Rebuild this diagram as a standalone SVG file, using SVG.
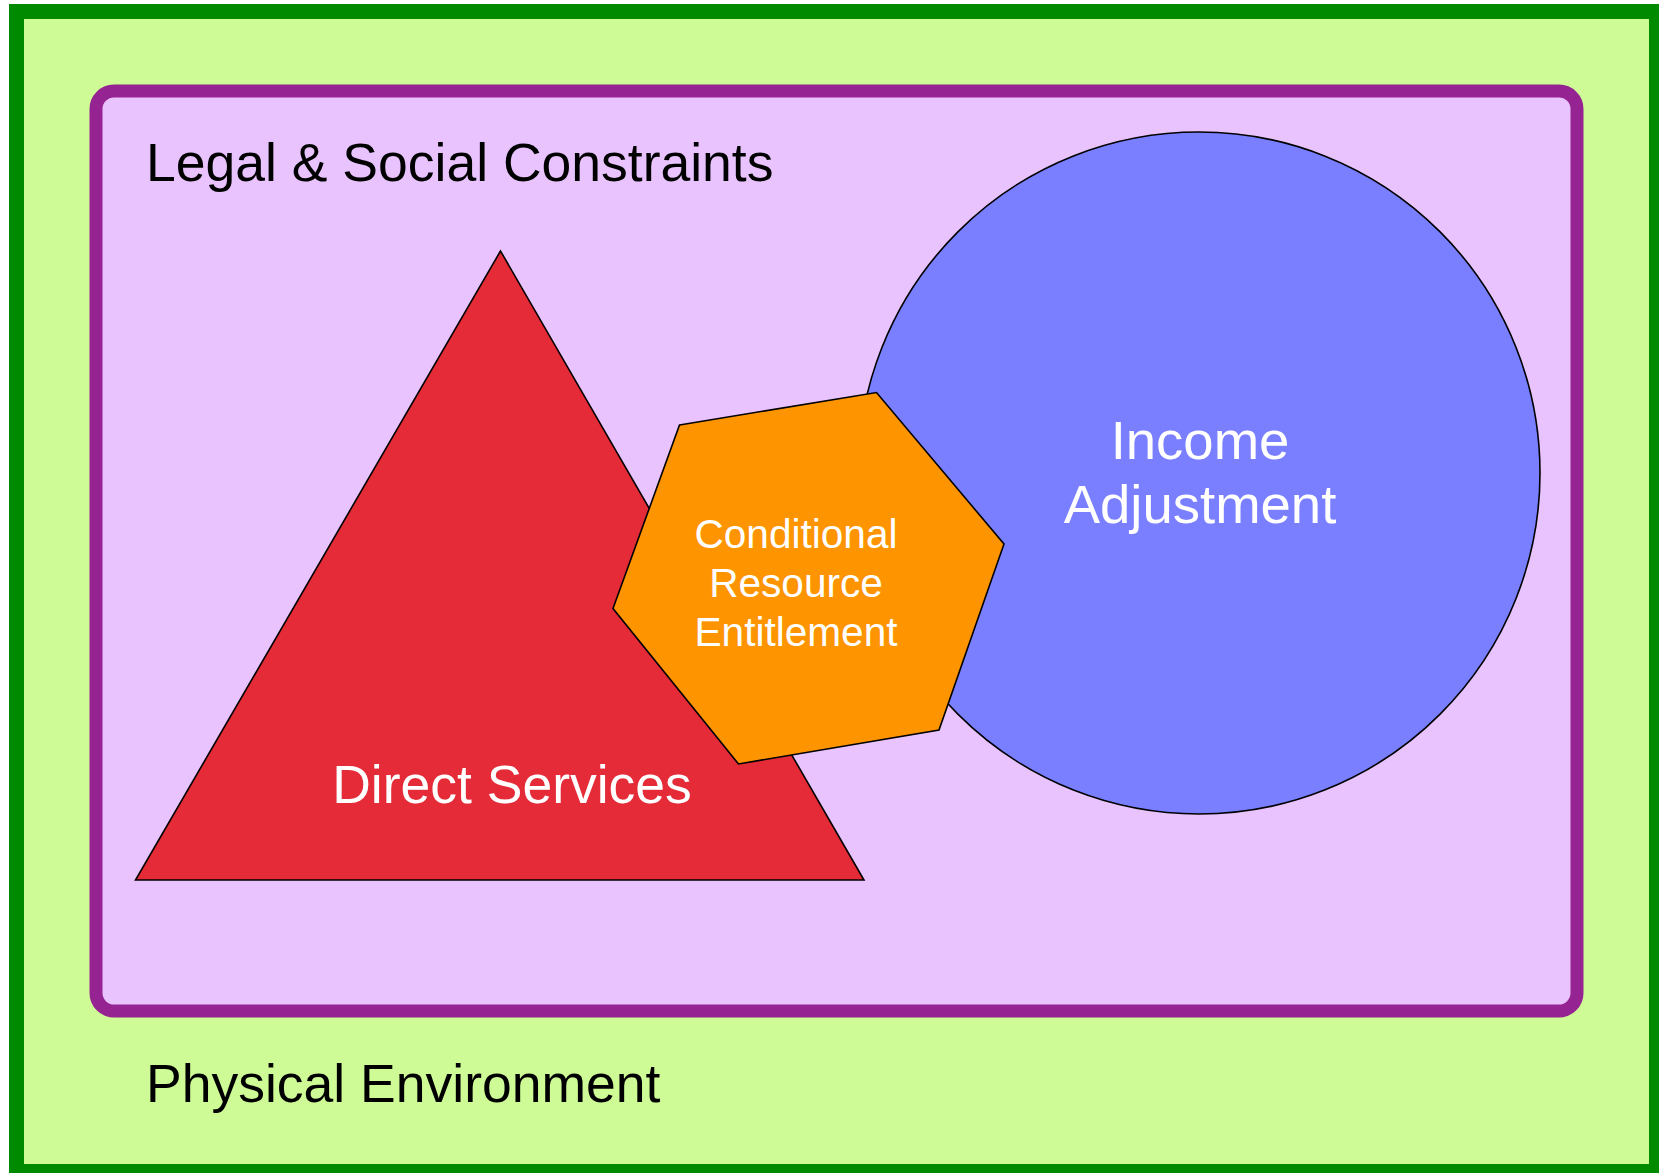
<svg xmlns="http://www.w3.org/2000/svg" width="1659" height="1173" viewBox="0 0 1659 1173">
<style>
.lbl{font-family:"Liberation Sans",Arial,Helvetica,sans-serif;font-size:53.5px}
.dark{fill:#000}
.light{fill:#fff}
.big{font-size:54.5px}
.small{font-size:40.6px}
.shape{stroke:#000;stroke-width:1.6;stroke-linejoin:miter}
</style>
<rect x="0" y="0" width="1659" height="1173" fill="#fff"/>
<g id="physical-environment">
<rect x="16.5" y="11.5" width="1640" height="1160" fill="#CFFB97" stroke="#008A00" stroke-width="15"/>
<text class="lbl dark" x="146" y="1102">Physical Environment</text>
</g>
<g id="legal-social-constraints">
<rect x="96" y="91" width="1481" height="920" rx="18" ry="18" fill="#E8C3FD" stroke="#952391" stroke-width="13"/>
<text class="lbl dark" x="146" y="181">Legal &amp; Social Constraints</text>
</g>
<g id="direct-services">
<polygon class="shape" points="500.5,251 135.5,880 864,880" fill="#E42B37"/>
<text class="lbl light" x="512" y="803" text-anchor="middle">Direct Services</text>
</g>
<g id="income-adjustment">
<circle class="shape" cx="1199" cy="473" r="341" fill="#7A7FFF"/>
<text class="lbl light big" x="1200" y="459" text-anchor="middle">Income</text>
<text class="lbl light big" x="1200" y="523" text-anchor="middle">Adjustment</text>
</g>
<g id="conditional-resource-entitlement">
<polygon class="shape" points="679.5,425 876.5,392.5 1004,544 939,730 738.5,764 613,608.5" fill="#FE9400"/>
<text class="lbl light small" x="796" y="548" text-anchor="middle">Conditional</text>
<text class="lbl light small" x="796" y="597" text-anchor="middle">Resource</text>
<text class="lbl light small" x="796" y="646" text-anchor="middle">Entitlement</text>
</g>
<g id="connectors"/>
</svg>
